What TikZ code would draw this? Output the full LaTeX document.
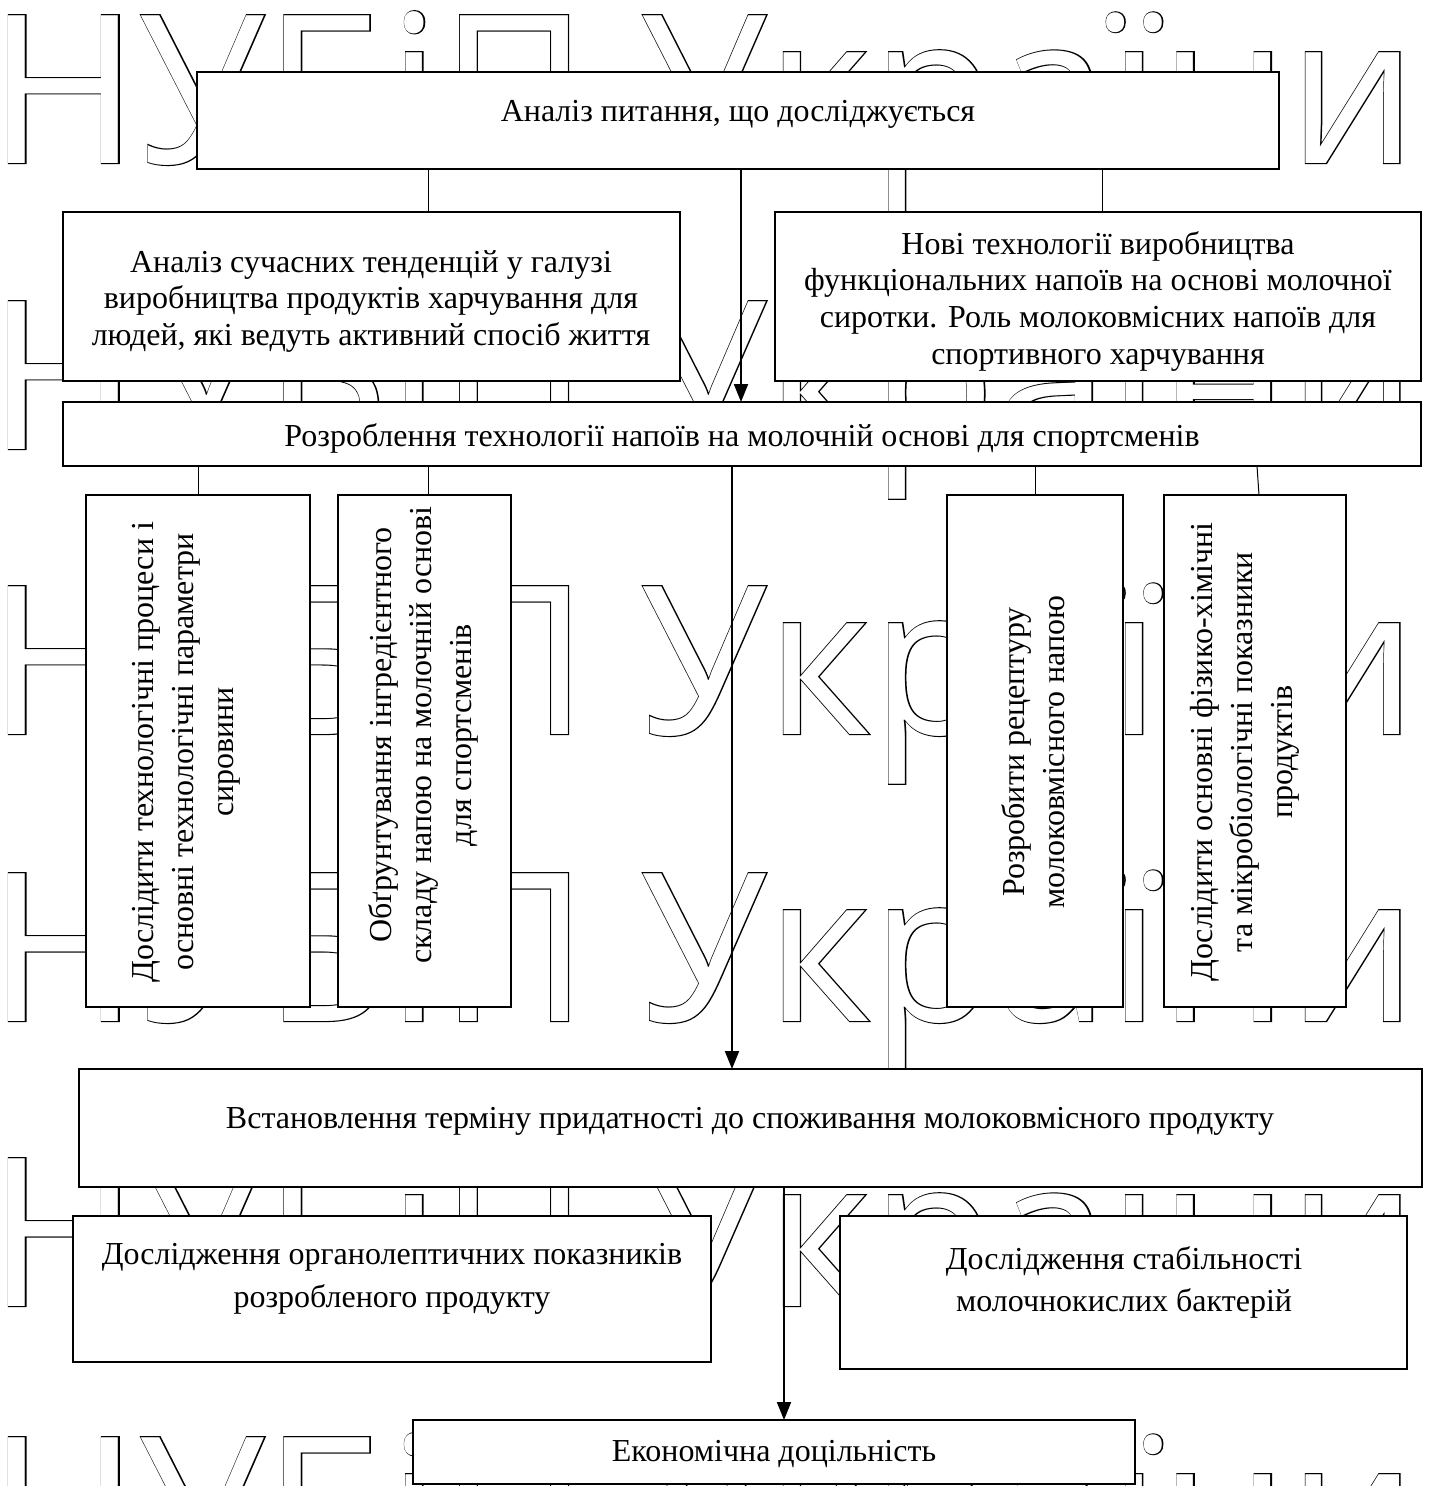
\documentclass[tikz,border=0pt]{standalone}
\usepackage{fontspec}
\usepackage{graphicx}
\setmainfont{Liberation Serif}
\newfontfamily\wmN{Open Sans}
\newfontfamily\wmB{Open Sans}[FakeBold=1]
\usetikzlibrary{arrows.meta}
\newcommand\wmrow{НУБіП України}
\newcommand\wmbox{\resizebox{1428pt}{\height}{\fontsize{207}{207}\selectfont\rlap{\color{black}\wmB\wmrow}{\color{white}\wmN\wmrow}}}
\begin{document}
\begin{tikzpicture}[x=1pt,y=-1pt,
  box/.style={draw,line width=2.3pt,fill=white,inner sep=0pt,outer sep=0pt,anchor=north west},
  conn/.style={line width=1pt},
  arr/.style={line width=2pt,-{Triangle[length=18pt,width=14pt]}},
  txt/.style={font=\fontsize{32}{36.7}\selectfont,align=center,inner sep=0pt},
  vtxt/.style={font=\fontsize{32}{40}\selectfont,align=center,inner sep=0pt,rotate=90},
  wm/.style={anchor=base west,inner sep=0pt,outer sep=0pt}]
\useasboundingbox (0,0) rectangle (1435,1486);
\clip (0,0) rectangle (1435,1486);
\fill[white] (0,0) rectangle (1435,1486);
% watermark
\foreach \b [count=\i] in {163,449,734,1021,1306,1585}
  \node[wm] (wm\i) at (-11,\b) {\wmbox};
% boxes
\node[box,minimum width=1082pt,minimum height=97pt] (b1) at (197,72) {};
\node[box,minimum width=617pt,minimum height=169pt] (b2) at (63,212) {};
\node[box,minimum width=646pt,minimum height=169pt] (b3) at (775,212) {};
\node[box,minimum width=1358pt,minimum height=64pt] (b4) at (63,402) {};
\node[box,minimum width=224pt,minimum height=512pt] (b5) at (86,495) {};
\node[box,minimum width=173pt,minimum height=512pt] (b6) at (338,495) {};
\node[box,minimum width=176pt,minimum height=512pt] (b7) at (947,495) {};
\node[box,minimum width=182pt,minimum height=512pt] (b8) at (1164,495) {};
\node[box,minimum width=1343pt,minimum height=118pt] (b9) at (79,1069) {};
\node[box,minimum width=638pt,minimum height=146pt] (b10) at (73,1216) {};
\node[box,minimum width=567pt,minimum height=153pt] (b11) at (840,1216) {};
\node[box,minimum width=722pt,minimum height=64pt] (b12) at (413,1420) {};
% texts
\node[txt,anchor=base] (t1) at (738,121) {Аналіз питання, що досліджується};
\node[txt,anchor=north] (t2) at (371,250) {Аналіз сучасних тенденцій у галузі\\виробництва продуктів харчування для\\людей, які ведуть активний спосіб життя};
\node[txt,anchor=north] (t3) at (1098,231) {Нові технології виробництва\\функціональних напоїв на основі молочної\\сиротки. Роль молоковмісних напоїв для\\спортивного харчування};
\node[txt,anchor=base] (t4) at (742,446) {Розроблення технології напоїв на молочній основі для спортсменів};
\node[vtxt,anchor=north] (t5) at (132,752) {Дослідити технологічні процеси і\\основні технологічні параметри\\сировини};
\node[vtxt,anchor=north] (t6) at (368,735) {Обґрунтування інгредієнтного\\складу напою на молочній основі\\для спортсменів};
\node[vtxt,anchor=north] (t7) at (1001,752) {Розробити рецептуру\\молоковмісного напою};
\node[vtxt,anchor=north] (t8) at (1190,752) {Дослідити основні фізико-хімічні\\та мікробіологічні показники\\продуктів};
\node[txt,anchor=base] (t9) at (750,1128) {Встановлення терміну придатності до споживання молоковмісного продукту};
\node[txt,anchor=north,font=\fontsize{32}{43}\selectfont] (t10) at (392,1243) {Дослідження органолептичних показників\\розробленого продукту};
\node[txt,anchor=north,font=\fontsize{32}{42}\selectfont] (t11) at (1124,1246) {Дослідження стабільності\\молочнокислих бактерій};
\node[txt,anchor=base] (t12) at (774,1461) {Економічна доцільність};
% connector x positions
\coordinate (a1) at (741,0);
\coordinate (a2) at (732,0);
\coordinate (a3) at (784,0);
\coordinate (c1) at (428,0);
\coordinate (c2) at (1102,0);
\coordinate (c3) at (198,0);
\coordinate (c4) at (428,0);
\coordinate (c5) at (1035,0);
\coordinate (c6) at (1257,0);
\coordinate (c7) at (1259,0);
% thin connectors
\draw[conn] (b1.south -| c1) -- (b2.north -| c1);
\draw[conn] (b1.south -| c2) -- (b3.north -| c2);
\draw[conn] (b4.south -| c3) -- (b5.north -| c3);
\draw[conn] (b4.south -| c4) -- (b6.north -| c4);
\draw[conn] (b4.south -| c5) -- (b7.north -| c5);
\draw[conn] (b4.south -| c6) -- (b8.north -| c7);
% arrows
\draw[arr] (b1.south -| a1) -- (b4.north -| a1);
\draw[arr] (b4.south -| a2) -- (b9.north -| a2);
\draw[arr] (b9.south -| a3) -- (b12.north -| a3);
\end{tikzpicture}
\end{document}
